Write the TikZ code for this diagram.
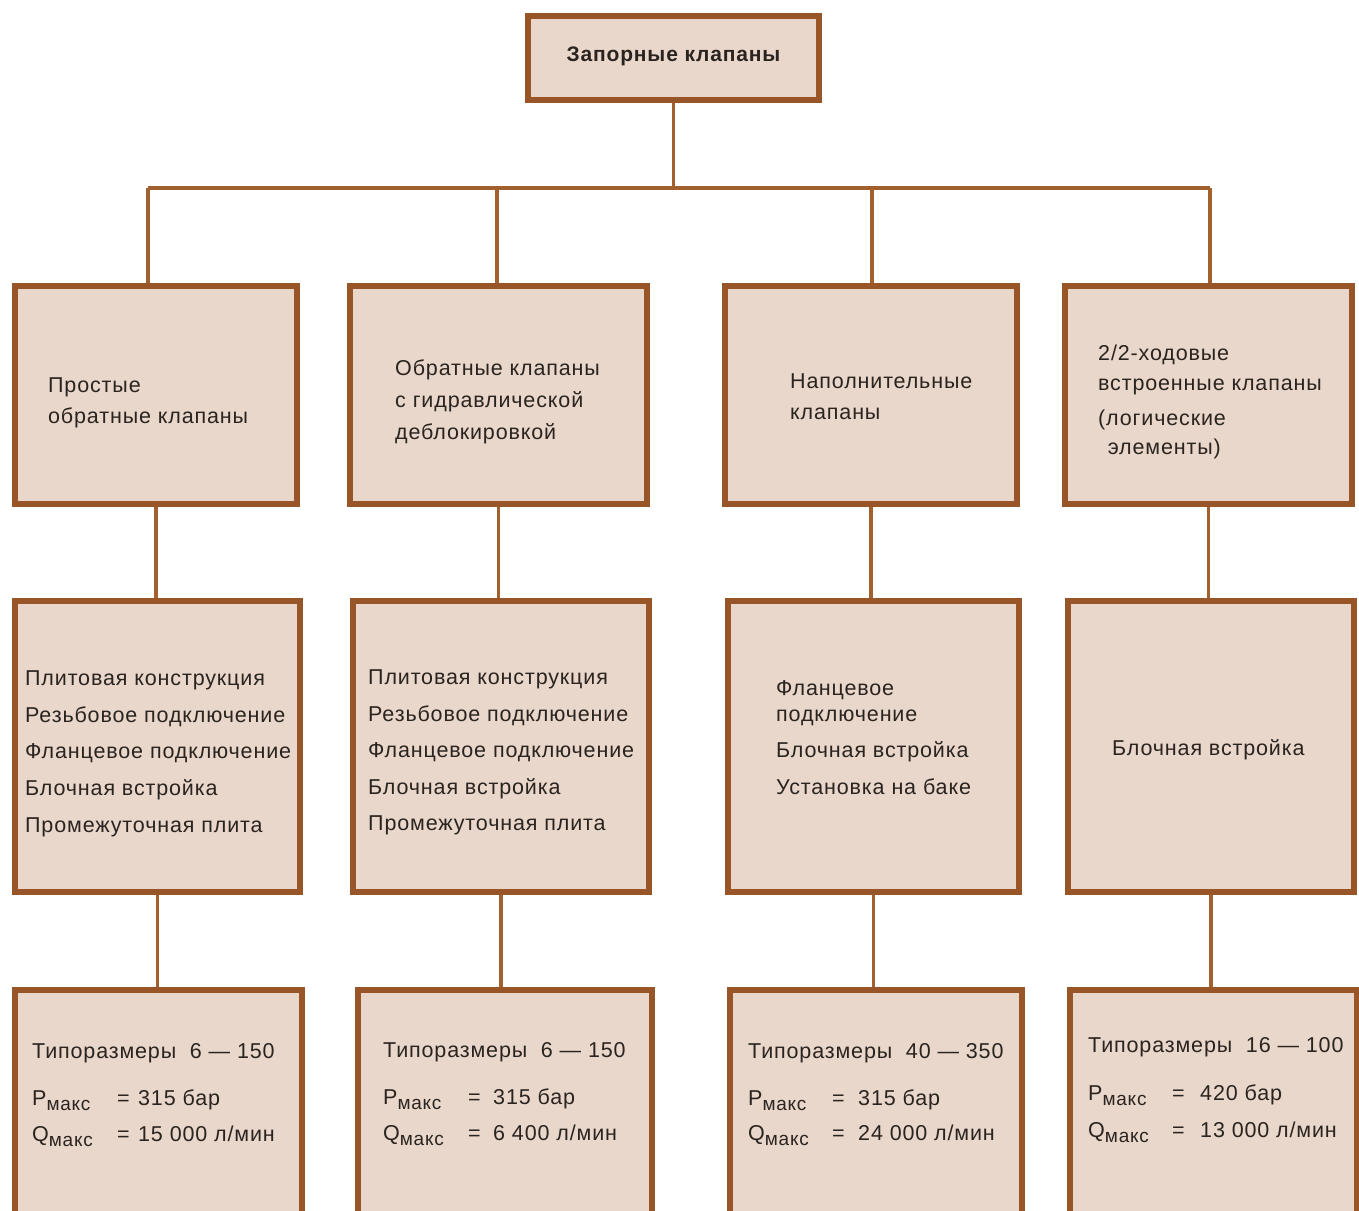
\documentclass[tikz,border=0pt]{standalone}
\usepackage{fontspec}
\setmainfont{Liberation Sans}[LetterSpace=4]
\usetikzlibrary{fit}
\definecolor{boxfill}{HTML}{E9D7CB}
\definecolor{boxline}{HTML}{985628}
\definecolor{connc}{HTML}{A2602F}
\definecolor{ink}{HTML}{2A2420}
\tikzset{
  box/.style={draw=boxline, line width=6pt, fill=boxfill, inner sep=0pt},
  conn/.style={draw=connc, line width=3.5pt},
  txt/.style={anchor=base west, inner sep=0pt, text=ink, font=\fontsize{21.5}{26}\selectfont},
  ttl/.style={anchor=center, inner sep=0pt, text=ink, font=\fontsize{21}{26}\selectfont\bfseries},
}
\newcommand\mksub[1]{#1\raisebox{-0.45ex}{\fontsize{19}{19}\selectfont макс}}
\begin{document}
\begin{tikzpicture}[x=1pt,y=-1pt]
\useasboundingbox (0,0) rectangle (1359,1210);
\clip (0,0) rectangle (1359,1210);
\fill[white] (0,0) rectangle (1359,1210);
% boxes
\node[box, fit={(528,16) (819,100)}] (top) {};
\node[box, fit={(15,286) (297,504)}] (r1a) {};
\node[box, fit={(350,286) (647,504)}] (r1b) {};
\node[box, fit={(725,286) (1017,504)}] (r1c) {};
\node[box, fit={(1065,286) (1352,504)}] (r1d) {};
\node[box, fit={(15,601) (300,892)}] (r2a) {};
\node[box, fit={(353,601) (649,892)}] (r2b) {};
\node[box, fit={(728,601) (1019,892)}] (r2c) {};
\node[box, fit={(1068,601) (1354,892)}] (r2d) {};
\node[box, fit={(15,990) (302,1240)}] (r3a) {};
\node[box, fit={(358,990) (652,1240)}] (r3b) {};
\node[box, fit={(730,990) (1022,1240)}] (r3c) {};
\node[box, fit={(1070,990) (1357,1240)}] (r3d) {};
% connectors
\coordinate (bus1) at (148,188);
\coordinate (bus2) at (497,188);
\coordinate (bus3) at (872,188);
\coordinate (bus4) at (1210,188);
\draw[conn] (top.south) -- (top.south |- bus1);
\draw[conn] (bus1) -- (bus4);
\draw[conn] (bus1) -- (bus1 |- r1a.north);
\draw[conn] (bus2) -- (bus2 |- r1b.north);
\draw[conn] (bus3) -- (bus3 |- r1c.north);
\draw[conn] (bus4) -- (bus4 |- r1d.north);
\foreach \c in {a,b,c,d}{
  \draw[conn] (r1\c.south) -- (r1\c.south |- r2\c.north);
  \draw[conn] (r2\c.south) -- (r2\c.south |- r3\c.north);
}
% title
\node[ttl] (ttop) at ([yshift=2pt]top.center) {Запорные клапаны};
% row 1
\node[txt] (t1a1) at (48,392) {Простые};
\node[txt] (t1a2) at (48,423) {обратные клапаны};
\node[txt] (t1b1) at (395,375) {Обратные клапаны};
\node[txt] (t1b2) at (395,407) {с гидравлической};
\node[txt] (t1b3) at (395,439) {деблокировкой};
\node[txt] (t1c1) at (790,388) {Наполнительные};
\node[txt] (t1c2) at (790,419) {клапаны};
\node[txt] (t1d1) at (1098,360) {2/2-ходовые};
\node[txt] (t1d2) at (1098,390) {встроенные клапаны};
\node[txt] (t1d3) at (1098,425) {(логические};
\node[txt] (t1d4) at (1104,454) {\,элементы)};
% row 2
\node[txt] (t2a1) at (25,685) {Плитовая конструкция};
\node[txt] (t2a2) at (25,722) {Резьбовое подключение};
\node[txt] (t2a3) at (25,758) {Фланцевое подключение};
\node[txt] (t2a4) at (25,795) {Блочная встройка};
\node[txt] (t2a5) at (25,832) {Промежуточная плита};
\node[txt] (t2b1) at (368,684) {Плитовая конструкция};
\node[txt] (t2b2) at (368,721) {Резьбовое подключение};
\node[txt] (t2b3) at (368,757) {Фланцевое подключение};
\node[txt] (t2b4) at (368,794) {Блочная встройка};
\node[txt] (t2b5) at (368,830) {Промежуточная плита};
\node[txt] (t2c1) at (776,695) {Фланцевое};
\node[txt] (t2c2) at (776,721) {подключение};
\node[txt] (t2c3) at (776,757) {Блочная встройка};
\node[txt] (t2c4) at (776,794) {Установка на баке};
\node[txt] (t2d1) at (1112,755) {Блочная встройка};
% row 3
\node[txt] (t3a1) at (32,1058) {Типоразмеры\ \ 6 — 150};
\node[txt] (t3a2) at (32,1105) {\mksub{P}};
\node[txt] (t3a3) at (117,1105) {=};
\node[txt] (t3a4) at (138,1105) {315 бар};
\node[txt] (t3a5) at (32,1141) {\mksub{Q}};
\node[txt] (t3a6) at (117,1141) {=};
\node[txt] (t3a7) at (138,1141) {15 000 л/мин};
\node[txt] (t3b1) at (383,1057) {Типоразмеры\ \ 6 — 150};
\node[txt] (t3b2) at (383,1104) {\mksub{P}};
\node[txt] (t3b3) at (468,1104) {=};
\node[txt] (t3b4) at (493,1104) {315 бар};
\node[txt] (t3b5) at (383,1140) {\mksub{Q}};
\node[txt] (t3b6) at (468,1140) {=};
\node[txt] (t3b7) at (493,1140) {6 400 л/мин};
\node[txt] (t3c1) at (748,1058) {Типоразмеры\ \ 40 — 350};
\node[txt] (t3c2) at (748,1105) {\mksub{P}};
\node[txt] (t3c3) at (832,1105) {=};
\node[txt] (t3c4) at (858,1105) {315 бар};
\node[txt] (t3c5) at (748,1140) {\mksub{Q}};
\node[txt] (t3c6) at (832,1140) {=};
\node[txt] (t3c7) at (858,1140) {24 000 л/мин};
\node[txt] (t3d1) at (1088,1052) {Типоразмеры\ \ 16 — 100};
\node[txt] (t3d2) at (1088,1100) {\mksub{P}};
\node[txt] (t3d3) at (1172,1100) {=};
\node[txt] (t3d4) at (1200,1100) {420 бар};
\node[txt] (t3d5) at (1088,1137) {\mksub{Q}};
\node[txt] (t3d6) at (1172,1137) {=};
\node[txt] (t3d7) at (1200,1137) {13 000 л/мин};
\end{tikzpicture}
\end{document}
